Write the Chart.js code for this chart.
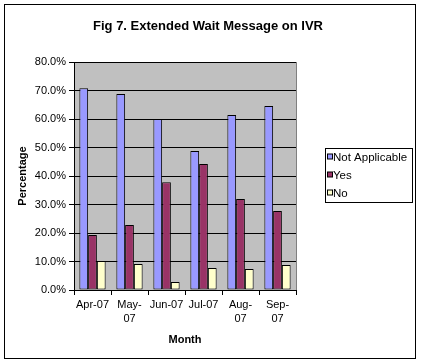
<!DOCTYPE html>
<html>
<head>
<meta charset="utf-8">
<script src="https://cdn.jsdelivr.net/npm/chart.js@4"></script>
<style>
  html, body { margin: 0; padding: 0; background: #fff; }
  #wrap { position: relative; width: 421px; height: 364px; }
</style>
</head>
<body>
<div id="wrap"><canvas id="waitChart" width="421" height="364"></canvas></div>
<script>
// Fig 7 data (percent)
const months = [['Apr-07'], ['May-', '07'], ['Jun-07'], ['Jul-07'], ['Aug-', '07'], ['Sep-', '07']];
const notApplicable = [70.8, 68.8, 60.0, 48.8, 61.4, 64.6];
const yes = [19.3, 22.8, 37.8, 44.2, 31.9, 27.7];
const no = [10.2, 9.1, 2.8, 7.7, 7.4, 8.8];
const yTicks = [0, 10, 20, 30, 40, 50, 60, 70, 80];

const chartTitle = 'Fig 7. Extended Wait Message on IVR';

// plot background, outer frame, title and boxed legend (Excel look)
const excelLook = {
    id: 'excelLook',
    beforeDraw(chart) {
        const ctx = chart.ctx;
        const a = chart.chartArea;
        ctx.save();
        ctx.fillStyle = '#fff';
        ctx.fillRect(0, 0, chart.width, chart.height);
        ctx.fillStyle = '#c0c0c0';
        ctx.fillRect(a.left, a.top, a.right - a.left, a.bottom - a.top);
        ctx.restore();
    },
    afterDraw(chart) {
        const ctx = chart.ctx;
        const a = chart.chartArea;
        ctx.save();
        ctx.lineWidth = 1;
        ctx.strokeStyle = '#808080';
        ctx.beginPath();
        ctx.moveTo(a.right + 0.5, a.top);
        ctx.lineTo(a.right + 0.5, a.bottom);
        ctx.stroke();

        // outer frame
        ctx.strokeStyle = '#000';
        ctx.strokeRect(4.5, 4.5, 411, 354);

        // title
        ctx.fillStyle = '#000';
        ctx.font = 'bold 13px "Liberation Sans", Arial, sans-serif';
        ctx.textAlign = 'center';
        ctx.textBaseline = 'middle';
        ctx.fillText(chartTitle, 208, 26);

        // legend
        ctx.strokeRect(325.5, 148.5, 87, 54);
        ctx.font = '11.5px "Liberation Sans", Arial, sans-serif';
        ctx.textAlign = 'left';
        const rowY = [157, 175, 193];
        chart.data.datasets.forEach((ds, i) => {
            ctx.fillStyle = ds.backgroundColor;
            ctx.fillRect(327.5, rowY[i] - 3, 5, 5);
            ctx.strokeRect(327.5, rowY[i] - 3, 5, 5);
            ctx.fillStyle = '#000';
            ctx.fillText(ds.label, 333, rowY[i] + 1);
        });
        ctx.restore();
    }
};

const ctx = document.getElementById('waitChart').getContext('2d');
new Chart(ctx, {
    type: 'bar',
    data: {
        labels: months,
        datasets: [
            { label: 'Not Applicable', data: notApplicable, backgroundColor: '#9999ff' },
            { label: 'Yes', data: yes, backgroundColor: '#993366' },
            { label: 'No', data: no, backgroundColor: '#ffffcc' }
        ].map(d => Object.assign(d, { borderColor: '#000', borderWidth: 1, borderSkipped: false }))
    },
    options: {
        responsive: false,
        animation: false,
        devicePixelRatio: 1,
        layout: { padding: { left: 12, top: 62, right: 125, bottom: 8 } },
        datasets: { bar: { categoryPercentage: 0.71, barPercentage: 1 } },
        plugins: {
            legend: { display: false },
            title: { display: false },
            tooltip: { enabled: false }
        },
        scales: {
            x: {
                afterFit: s => { s.height = 66; },
                grid: { drawOnChartArea: false, drawTicks: true, tickLength: 5, color: '#000', offset: true },
                border: { color: '#000' },
                ticks: {
                    color: '#000', maxRotation: 0, autoSkip: false, padding: 3,
                    font: { family: '"Liberation Sans", Arial, sans-serif', size: 11, lineHeight: 1.3 }
                },
                title: {
                    display: true, text: 'Month', color: '#000',
                    padding: { top: 4, bottom: 9 },
                    font: { family: '"Liberation Sans", Arial, sans-serif', size: 11, weight: 'bold' }
                }
            },
            y: {
                min: 0, max: 80,
                afterFit: s => { s.width = 62; },
                afterBuildTicks: s => { s.ticks = yTicks.map(v => ({ value: v })); },
                grid: { color: '#000', tickLength: 5 },
                border: { color: '#000' },
                ticks: {
                    color: '#000', padding: 3,
                    callback: v => v.toFixed(1) + '%',
                    font: { family: '"Liberation Sans", Arial, sans-serif', size: 11 }
                },
                title: {
                    display: true, text: 'Percentage', color: '#000',
                    font: { family: '"Liberation Sans", Arial, sans-serif', size: 11, weight: 'bold' }
                }
            }
        }
    },
    plugins: [excelLook]
});
</script>
</body>
</html>
